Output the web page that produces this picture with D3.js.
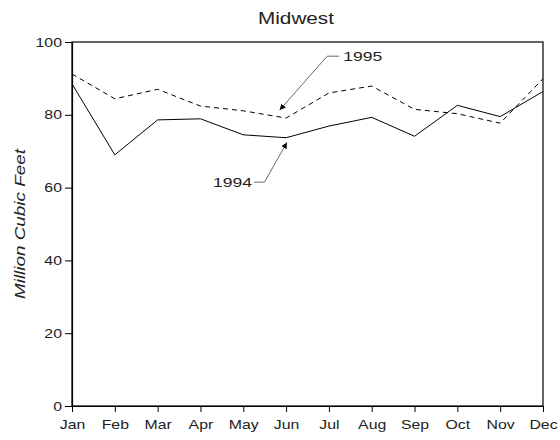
<!DOCTYPE html>
<html>
<head>
<meta charset="utf-8">
<script src="https://cdn.jsdelivr.net/npm/d3@7"></script>
<style>
body { margin: 0; background: #fff; }
text { font-family: "Liberation Sans", Arial, sans-serif; fill: #222; }
</style>
</head>
<body>
<div id="chart"></div>
<script>
// months and monthly values (million cubic feet)
var months = ["Jan", "Feb", "Mar", "Apr", "May", "Jun", "Jul", "Aug", "Sep", "Oct", "Nov", "Dec"];
var values1994 = [88.5, 69.0, 78.6, 78.9, 74.5, 73.7, 76.9, 79.3, 74.1, 82.6, 79.5, 86.4];
var values1995 = [91.2, 84.4, 87.0, 82.4, 81.1, 79.1, 86.0, 87.9, 81.5, 80.3, 77.7, 89.9];
var yTicks = [0, 20, 40, 60, 80, 100];

var svgWidth = 560;
var svgHeight = 440;
var margin = { top: 42, right: 17, bottom: 34, left: 72 };
var width = svgWidth - margin.left - margin.right;
var height = svgHeight - margin.top - margin.bottom;

// the source chart's lettering is a bit wide, stretch it sideways
var stretch = 1.22;

var svg = d3.select("#chart")
    .append("svg")
    .attr("width", svgWidth)
    .attr("height", svgHeight);

var chartGroup = svg.append("g")
    .attr("transform", `translate(${margin.left}, ${margin.top})`);

var xScale = d3.scalePoint()
    .domain(months)
    .range([0, width]);

var yScale = d3.scaleLinear()
    .domain([0, 100])
    .range([height, 0]);

// frame
chartGroup.append("rect")
    .attr("width", width)
    .attr("height", height)
    .attr("fill", "none")
    .attr("stroke", "#000")
    .attr("stroke-width", 1.2);

var bottomAxis = d3.axisBottom(xScale).tickSize(6).tickSizeOuter(0).tickPadding(8);
var leftAxis = d3.axisLeft(yScale).tickValues(yTicks).tickSize(7).tickSizeOuter(0).tickPadding(3);

var xg = chartGroup.append("g")
    .attr("transform", `translate(0, ${height})`)
    .call(bottomAxis);
var yg = chartGroup.append("g")
    .call(leftAxis);

[xg, yg].forEach(function(g) {
    g.select(".domain").attr("stroke", "#000").attr("stroke-width", 1.2);
    g.selectAll(".tick line").attr("stroke", "#000");
    g.selectAll(".tick text")
        .attr("font-size", "13px")
        .attr("fill", "#222")
        .style("font-family", "'Liberation Sans', Arial, sans-serif");
});
xg.selectAll(".tick text").attr("transform", `scale(${stretch},1)`);
yg.selectAll(".tick text")
    .attr("x", -10 / stretch)
    .attr("transform", `scale(${stretch},1)`);

// lines
var line = d3.line()
    .x((d, i) => xScale(months[i]))
    .y(d => yScale(d));

chartGroup.append("path")
    .datum(values1994)
    .attr("d", line)
    .attr("fill", "none")
    .attr("stroke", "#000")
    .attr("stroke-width", 1);

chartGroup.append("path")
    .datum(values1995)
    .attr("d", line)
    .attr("fill", "none")
    .attr("stroke", "#000")
    .attr("stroke-width", 1)
    .attr("stroke-dasharray", "5,4");

// arrow marker
svg.append("defs").append("marker")
    .attr("id", "arrow")
    .attr("viewBox", "0 0 10 10")
    .attr("refX", 10)
    .attr("refY", 5)
    .attr("markerWidth", 6)
    .attr("markerHeight", 6)
    .attr("markerUnits", "userSpaceOnUse")
    .attr("orient", "auto")
    .append("path")
    .attr("d", "M0,0 L10,5 L0,10 z")
    .attr("fill", "#000");

// annotations: label position in month steps / data units, pointer to a month/value
function annotate(label, lx, ly, elbow, tx, ty, anchor) {
    var x0 = xScale(months[0]);
    var step = xScale.step();
    var px = x0 + lx * step, py = yScale(ly);
    var ex = px + elbow, ax = x0 + tx * step, ay = yScale(ty);
    chartGroup.append("path")
        .attr("d", `M${px},${py}L${ex},${py}L${ax},${ay}`)
        .attr("fill", "none")
        .attr("stroke", "#444")
        .attr("stroke-width", 0.8)
        .attr("marker-end", "url(#arrow)");
    chartGroup.append("text")
        .attr("x", anchor === "end" ? px - 2 : px + 4)
        .attr("y", py + 4.5)
        .attr("text-anchor", anchor)
        .attr("font-size", "13px")
        .attr("textLength", 39)
        .attr("lengthAdjust", "spacingAndGlyphs")
        .text(label);
}

annotate("1995", 6.24, 96.1, -12, 4.85, 81.3, "start");
annotate("1994", 4.25, 61.5, 10.5, 5.02, 72.4, "end");

// title
svg.append("text")
    .attr("x", 296)
    .attr("y", 24)
    .attr("text-anchor", "middle")
    .attr("font-size", "16px")
    .attr("textLength", 76)
    .attr("lengthAdjust", "spacingAndGlyphs")
    .text("Midwest");

// y axis label
svg.append("text")
    .attr("transform", "rotate(-90)")
    .attr("x", -(margin.top + height / 2))
    .attr("y", 25)
    .attr("text-anchor", "middle")
    .attr("font-size", "15px")
    .attr("font-style", "italic")
    .attr("textLength", 150)
    .attr("lengthAdjust", "spacingAndGlyphs")
    .text("Million Cubic Feet");
</script>
</body>
</html>
